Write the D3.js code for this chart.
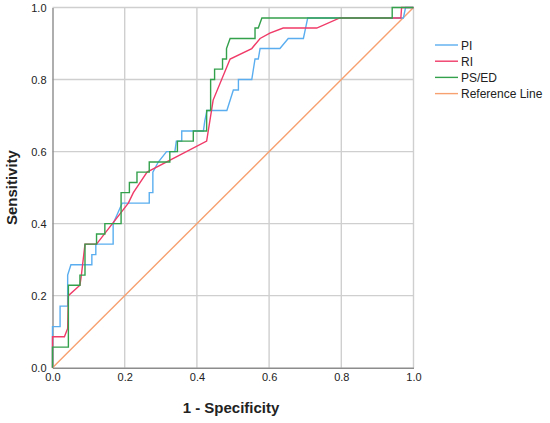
<!DOCTYPE html>
<html>
<head>
<meta charset="utf-8">
<script src="https://cdn.jsdelivr.net/npm/d3@7"></script>
<style>
  body { margin: 0; background: #fff; }
  text { font-family: "Liberation Sans", Arial, sans-serif; }
</style>
</head>
<body>
<svg id="chart"></svg>
<script>
// ROC curve points, [1 - specificity, sensitivity]
var piPoints = [[0,0],[0,0.114],[0.021,0.114],[0.021,0.171],[0.042,0.171],[0.042,0.257],[0.051,0.286],[0.109,0.286],[0.109,0.314],[0.12,0.314],[0.12,0.343],[0.168,0.343],[0.168,0.4],[0.193,0.457],[0.268,0.457],[0.268,0.486],[0.278,0.486],[0.278,0.543],[0.293,0.571],[0.316,0.6],[0.339,0.6],[0.343,0.629],[0.358,0.629],[0.358,0.657],[0.418,0.657],[0.422,0.686],[0.428,0.714],[0.483,0.714],[0.501,0.771],[0.515,0.771],[0.515,0.8],[0.552,0.8],[0.561,0.857],[0.57,0.857],[0.575,0.886],[0.63,0.886],[0.653,0.914],[0.695,0.914],[0.707,0.971],[0.972,0.971],[0.978,1],[1,1]];
var riPoints = [[0,0],[0,0.086],[0.033,0.086],[0.042,0.109],[0.044,0.2],[0.076,0.229],[0.08,0.257],[0.09,0.343],[0.122,0.343],[0.21,0.457],[0.224,0.486],[0.262,0.543],[0.427,0.629],[0.445,0.743],[0.492,0.857],[0.552,0.886],[0.575,0.914],[0.602,0.929],[0.639,0.943],[0.732,0.943],[0.796,0.971],[0.965,0.971],[0.967,1],[1,1]];
var psedPoints = [[0,0],[0,0.057],[0.044,0.057],[0.044,0.229],[0.076,0.229],[0.076,0.257],[0.09,0.257],[0.09,0.343],[0.122,0.343],[0.122,0.371],[0.145,0.371],[0.145,0.4],[0.19,0.4],[0.19,0.486],[0.213,0.486],[0.213,0.514],[0.234,0.514],[0.234,0.543],[0.268,0.543],[0.268,0.571],[0.325,0.571],[0.325,0.6],[0.346,0.6],[0.346,0.629],[0.39,0.629],[0.39,0.657],[0.427,0.657],[0.427,0.714],[0.438,0.714],[0.438,0.8],[0.449,0.8],[0.449,0.829],[0.471,0.829],[0.471,0.857],[0.482,0.857],[0.482,0.886],[0.492,0.914],[0.561,0.914],[0.561,0.943],[0.57,0.943],[0.58,0.971],[0.941,0.971],[0.941,1],[1,1]];
var refPoints = [[0,0],[1,1]];

var seriesNames = ["PI", "RI", "PS/ED", "Reference Line"];
var seriesColors = ["#5aaef0", "#f03a68", "#33a04c", "#f7a070"];
var tickValues = [0, 0.2, 0.4, 0.6, 0.8, 1.0];

var series = [piPoints, riPoints, psedPoints, refPoints];

var screen = { width: 550, height: 423 };
var margins = { top: 7.5, left: 52.5, right: 136.5, bottom: 55.3 };
var width = screen.width - margins.left - margins.right;
var height = screen.height - margins.top - margins.bottom;

var xScale = d3.scaleLinear().domain([0, 1]).range([0, width]);
var yScale = d3.scaleLinear().domain([0, 1]).range([height, 0]);

var svg = d3.select("#chart")
  .attr("width", screen.width)
  .attr("height", screen.height);

var plot = svg.append("g")
  .attr("transform", "translate(" + margins.left + "," + margins.top + ")");

// grid
plot.append("g")
  .selectAll("line.vgrid")
  .data(tickValues.slice(1))
  .enter().append("line")
  .attr("x1", function(d) { return xScale(d); })
  .attr("x2", function(d) { return xScale(d); })
  .attr("y1", 0).attr("y2", height)
  .attr("stroke", "#cfcfcf").attr("stroke-width", 1.4);
plot.append("g")
  .selectAll("line.hgrid")
  .data(tickValues.slice(1))
  .enter().append("line")
  .attr("y1", function(d) { return yScale(d); })
  .attr("y2", function(d) { return yScale(d); })
  .attr("x1", 0).attr("x2", width)
  .attr("stroke", "#cfcfcf").attr("stroke-width", 1.4);

// axes
var xAxis = d3.axisBottom(xScale).tickValues(tickValues).tickFormat(d3.format(".1f")).tickSize(0).tickPadding(6);
var yAxis = d3.axisLeft(yScale).tickValues(tickValues).tickFormat(d3.format(".1f")).tickSize(0).tickPadding(6);

var gx = plot.append("g")
  .attr("transform", "translate(0," + height + ")")
  .call(xAxis);
var gy = plot.append("g").call(yAxis);
[gx, gy].forEach(function(g) {
  g.select(".domain").attr("stroke", "#8c8c8c").attr("stroke-width", 1.4);
  g.selectAll("text").attr("font-size", 11).attr("fill", "#222");
});

// curves
var line = d3.line()
  .x(function(d) { return xScale(d[0]); })
  .y(function(d) { return yScale(d[1]); });

plot.selectAll("path.curve")
  .data([3, 0, 1, 2])
  .enter().append("path")
  .attr("class", "curve")
  .attr("d", function(i) { return line(series[i]); })
  .attr("fill", "none")
  .attr("stroke", function(i) { return seriesColors[i]; })
  .attr("stroke-width", 1.4);

// axis titles
svg.append("text")
  .attr("x", margins.left + width / 2 - 2)
  .attr("y", 413)
  .attr("text-anchor", "middle")
  .attr("font-size", 15)
  .attr("font-weight", "bold")
  .attr("fill", "#222")
  .text("1 - Specificity");
svg.append("text")
  .attr("transform", "translate(17," + (margins.top + height / 2) + ") rotate(-90)")
  .attr("text-anchor", "middle")
  .attr("font-size", 15)
  .attr("font-weight", "bold")
  .attr("fill", "#222")
  .text("Sensitivity");

// legend
var legend = svg.append("g").attr("transform", "translate(435,45)");
var rows = legend.selectAll("g")
  .data(seriesNames)
  .enter().append("g")
  .attr("transform", function(d, i) { return "translate(0," + (i * 16.2) + ")"; });
rows.append("line")
  .attr("x1", 0).attr("x2", 23)
  .attr("stroke", function(d, i) { return seriesColors[i]; })
  .attr("stroke-width", 1.4);
rows.append("text")
  .attr("x", 26)
  .attr("y", 4.5)
  .attr("font-size", 12)
  .attr("fill", "#222")
  .text(function(d) { return d; });
</script>
</body>
</html>
